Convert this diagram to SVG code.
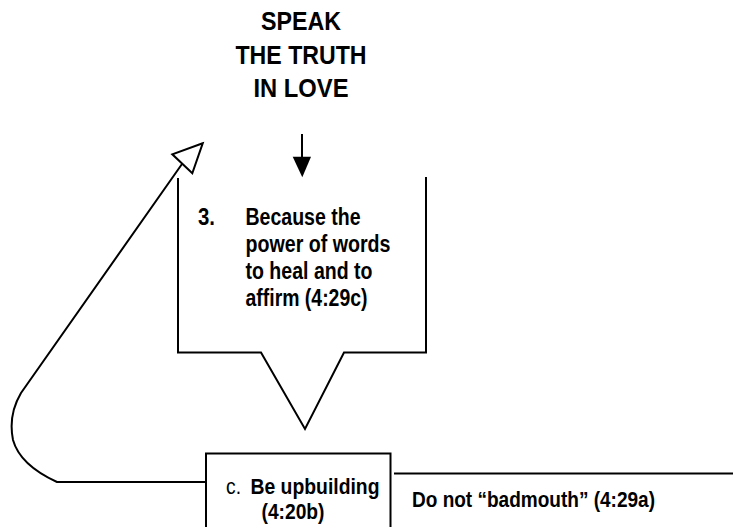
<svg xmlns="http://www.w3.org/2000/svg" width="733" height="527" viewBox="0 0 733 527">
  <style>
    .ln { fill: none; stroke: #000; stroke-width: 2; stroke-linejoin: miter; }
    .t { font-family: "Liberation Sans", Arial, sans-serif; font-weight: bold; fill: #000; }
    .title { font-size: 26px; text-anchor: middle; }
    .body { font-size: 23.5px; }
    .small { font-size: 22.5px; }
    .reg { font-family: "Liberation Sans", Arial, sans-serif; font-weight: normal; fill: #000; font-size: 22px; }
  </style>
  <rect width="733" height="527" fill="#fff"/>

  <g id="title">
    <text class="t title" x="301" y="29.5" textLength="80" lengthAdjust="spacingAndGlyphs">SPEAK</text>
    <text class="t title" x="301" y="63.5" textLength="131" lengthAdjust="spacingAndGlyphs">THE TRUTH</text>
    <text class="t title" x="301" y="97" textLength="95" lengthAdjust="spacingAndGlyphs">IN LOVE</text>
  </g>

  <g id="callout">
    <path class="ln" d="M178,178 L178,352.5 L261,352.5 L305,429 L344,352.5 L426,352.5 L426,177"/>
    <text class="t body" x="198" y="224.5" textLength="17" lengthAdjust="spacingAndGlyphs">3.</text>
    <text class="t body" x="245.5" y="224.5" textLength="115" lengthAdjust="spacingAndGlyphs">Because the</text>
    <text class="t body" x="245.5" y="251.5" textLength="145" lengthAdjust="spacingAndGlyphs">power of words</text>
    <text class="t body" x="245.5" y="278.5" textLength="127" lengthAdjust="spacingAndGlyphs">to heal and to</text>
    <text class="t body" x="245.5" y="305.5" textLength="122" lengthAdjust="spacingAndGlyphs">affirm (4:29c)</text>
  </g>

  <g id="upbuilding">
    <rect class="ln" x="206" y="453.5" width="184.5" height="80"/>
    <text class="reg" x="226" y="494" textLength="15" lengthAdjust="spacingAndGlyphs">c.</text>
    <text class="t small" x="250.5" y="494" textLength="129" lengthAdjust="spacingAndGlyphs">Be upbuilding</text>
    <text class="t small" x="261.5" y="518.5" textLength="63" lengthAdjust="spacingAndGlyphs">(4:20b)</text>
  </g>

  <g id="badmouth">
    <text class="t small" x="412" y="507" textLength="243" lengthAdjust="spacingAndGlyphs">Do not “badmouth” (4:29a)</text>
  </g>

  <g id="connectors">
    <!-- downward arrow from the title -->
    <line class="ln" x1="302" y1="134" x2="302" y2="158"/>
    <polygon points="292.7,156.7 311,156.7 302.3,177.3" fill="#000"/>
    <!-- return loop from the box up to the hollow arrowhead -->
    <path class="ln" d="M206,482 L57,482 Q20,465 13,440 Q8,415 21,393 L182,164"/>
    <polygon class="ln" points="202.7,143.3 172.3,154.3 192.3,173.3" fill="#fff"/>
    <!-- rule over the badmouth label -->
    <line class="ln" x1="394" y1="473.5" x2="733" y2="473.5"/>
  </g>
</svg>
